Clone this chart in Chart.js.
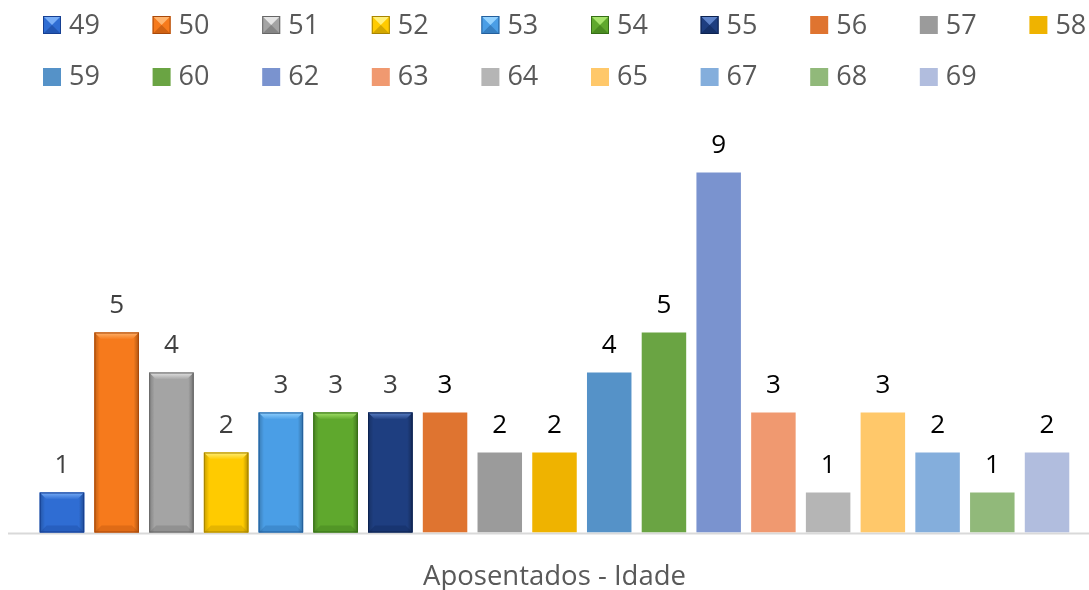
<!DOCTYPE html>
<html>
<head>
<meta charset="utf-8">
<script src="https://cdn.jsdelivr.net/npm/chart.js@4.4.1/dist/chart.umd.min.js"></script>
<style>
  html, body { margin: 0; padding: 0; background: #fff; }
  #wrap { width: 1089px; height: 590px; }
</style>
</head>
<body>
<div id="wrap"><canvas id="c"></canvas></div>
<script>
// Aposentados por idade - one category, one series per age
const categoryLabel = "Aposentados - Idade";
const ages = ["49", "50", "51", "52", "53", "54", "55", "56", "57", "58",
              "59", "60", "62", "63", "64", "65", "67", "68", "69"];
const counts = [1, 5, 4, 2, 3, 3, 3, 3, 2, 2, 4, 5, 9, 3, 1, 3, 2, 1, 2];
const colors = ["#2F6DD3", "#F67A1C", "#A4A4A4", "#FFCB00", "#4A9EE6", "#5FA82D", "#1E3E80",
                "#DF7430", "#9B9B9B", "#EFB300", "#5592C8", "#6AA443", "#7A93CF",
                "#F09970", "#B5B5B5", "#FFC86A", "#84AEDC", "#91B97A", "#B1BDDE"];
// bevelled bars (first seven series): light and dark shades
const bevelLight = ["#79AEF7", "#FFB46E", "#E4E4E4", "#FFF07A", "#93D2FF", "#A6E36B", "#5E83C9"];
const bevelDark = ["#163F92", "#A8490A", "#666666", "#A88400", "#235F9C", "#356E16", "#0C224F"];

const FONT = "'Open Sans', 'DejaVu Sans', sans-serif";

function drawBevelBar(ctx, x0, y0, x1, y1, i) {
  const w = x1 - x0, h = y1 - y0;
  const d = Math.min(7, h / 2, w / 2);
  ctx.save();
  ctx.fillStyle = colors[i];
  ctx.fillRect(x0, y0, w, h);
  // side shading
  const g = ctx.createLinearGradient(x0, 0, x1, 0);
  g.addColorStop(0, "rgba(0,0,0,0.22)");
  g.addColorStop(0.12, "rgba(0,0,0,0)");
  g.addColorStop(0.88, "rgba(0,0,0,0)");
  g.addColorStop(1, "rgba(0,0,0,0.3)");
  ctx.fillStyle = g;
  ctx.fillRect(x0, y0, w, h);
  // top bevel
  const gt = ctx.createLinearGradient(0, y0, 0, y0 + d);
  gt.addColorStop(0, bevelLight[i]);
  gt.addColorStop(1, colors[i]);
  ctx.fillStyle = gt;
  ctx.beginPath();
  ctx.moveTo(x0, y0); ctx.lineTo(x1, y0);
  ctx.lineTo(x1 - d, y0 + d); ctx.lineTo(x0 + d, y0 + d);
  ctx.closePath(); ctx.fill();
  // bottom bevel
  ctx.fillStyle = bevelDark[i];
  ctx.globalAlpha = 0.3;
  ctx.beginPath();
  ctx.moveTo(x0, y1); ctx.lineTo(x1, y1);
  ctx.lineTo(x1 - d, y1 - d); ctx.lineTo(x0 + d, y1 - d);
  ctx.closePath(); ctx.fill();
  ctx.globalAlpha = 1;
  // outline
  ctx.strokeStyle = bevelDark[i];
  ctx.lineWidth = 1;
  ctx.strokeRect(x0 + 0.5, y0 + 0.5, w - 1, h - 1);
  ctx.restore();
}

const decorations = {
  id: "decorations",
  beforeDatasetsDraw(chart) {
    // baseline across the whole width
    const ctx = chart.ctx;
    const y = chart.scales.y.getPixelForValue(0);
    ctx.save();
    ctx.strokeStyle = "#D9D9D9";
    ctx.lineWidth = 2;
    ctx.beginPath();
    ctx.moveTo(8, y + 1);
    ctx.lineTo(chart.width, y + 1);
    ctx.stroke();
    ctx.restore();
  },
  afterDatasetsDraw(chart) {
    const ctx = chart.ctx;
    chart.data.datasets.forEach((ds, i) => {
      const el = chart.getDatasetMeta(i).data[0];
      const half = el.width / 2;
      if (i < bevelLight.length) {
        drawBevelBar(ctx, el.x - half, el.y, el.x + half, el.base, i);
      }
      ctx.save();
      ctx.font = "26px " + FONT;
      ctx.fillStyle = i < bevelLight.length ? "#404040" : "#000000";
      ctx.textAlign = "center";
      ctx.textBaseline = "alphabetic";
      ctx.fillText(String(ds.data[0]), el.x, el.y - 20);
      ctx.restore();
    });
  },
  afterDraw(chart) {
    const ctx = chart.ctx;
    ctx.save();
    // legend: 10 per row, fixed grid
    chart.data.datasets.forEach((ds, i) => {
      const col = i % 10, row = Math.floor(i / 10);
      const bx = 43 + col * 109.6;
      const by = 16 + row * 52;
      const s = 18;
      if (i < bevelLight.length) {
        ctx.fillStyle = colors[i];
        ctx.fillRect(bx, by, s, s);
        ctx.fillStyle = bevelLight[i];
        ctx.beginPath();
        ctx.moveTo(bx, by); ctx.lineTo(bx + s, by); ctx.lineTo(bx + s / 2, by + s / 2);
        ctx.closePath(); ctx.fill();
        ctx.fillStyle = bevelDark[i];
        ctx.globalAlpha = 0.5;
        ctx.beginPath();
        ctx.moveTo(bx, by + s); ctx.lineTo(bx + s, by + s); ctx.lineTo(bx + s / 2, by + s / 2);
        ctx.closePath(); ctx.fill();
        ctx.globalAlpha = 1;
        ctx.strokeStyle = bevelDark[i];
        ctx.lineWidth = 1;
        ctx.strokeRect(bx + 0.5, by + 0.5, s - 1, s - 1);
      } else {
        ctx.fillStyle = colors[i];
        ctx.fillRect(bx, by, s, s);
      }
      ctx.fillStyle = "#595959";
      ctx.font = "27px " + FONT;
      ctx.textAlign = "left";
      ctx.textBaseline = "alphabetic";
      ctx.fillText(ds.label, bx + 26, 34 + row * 51);
    });
    // category label under the axis
    ctx.fillStyle = "#595959";
    ctx.font = "27.5px " + FONT;
    ctx.textAlign = "center";
    ctx.fillText(chart.data.labels[0], (chart.chartArea.left + chart.chartArea.right) / 2, 585);
    ctx.restore();
  }
};

new Chart(document.getElementById("c"), {
  type: "bar",
  data: {
    labels: [categoryLabel],
    datasets: ages.map((a, i) => ({
      label: a,
      data: [counts[i]],
      backgroundColor: colors[i],
      borderWidth: 0,
      categoryPercentage: 1,
      barPercentage: 0.813
    }))
  },
  options: {
    responsive: true,
    maintainAspectRatio: false,
    animation: false,
    layout: { padding: { left: 34.6, right: 14.6, top: 132.5, bottom: 57.5 } },
    plugins: {
      legend: { display: false },
      title: { display: false },
      tooltip: { enabled: false }
    },
    scales: {
      x: { display: false },
      y: { display: false, min: 0, max: 10 }
    }
  },
  plugins: [decorations]
});
</script>
</body>
</html>
